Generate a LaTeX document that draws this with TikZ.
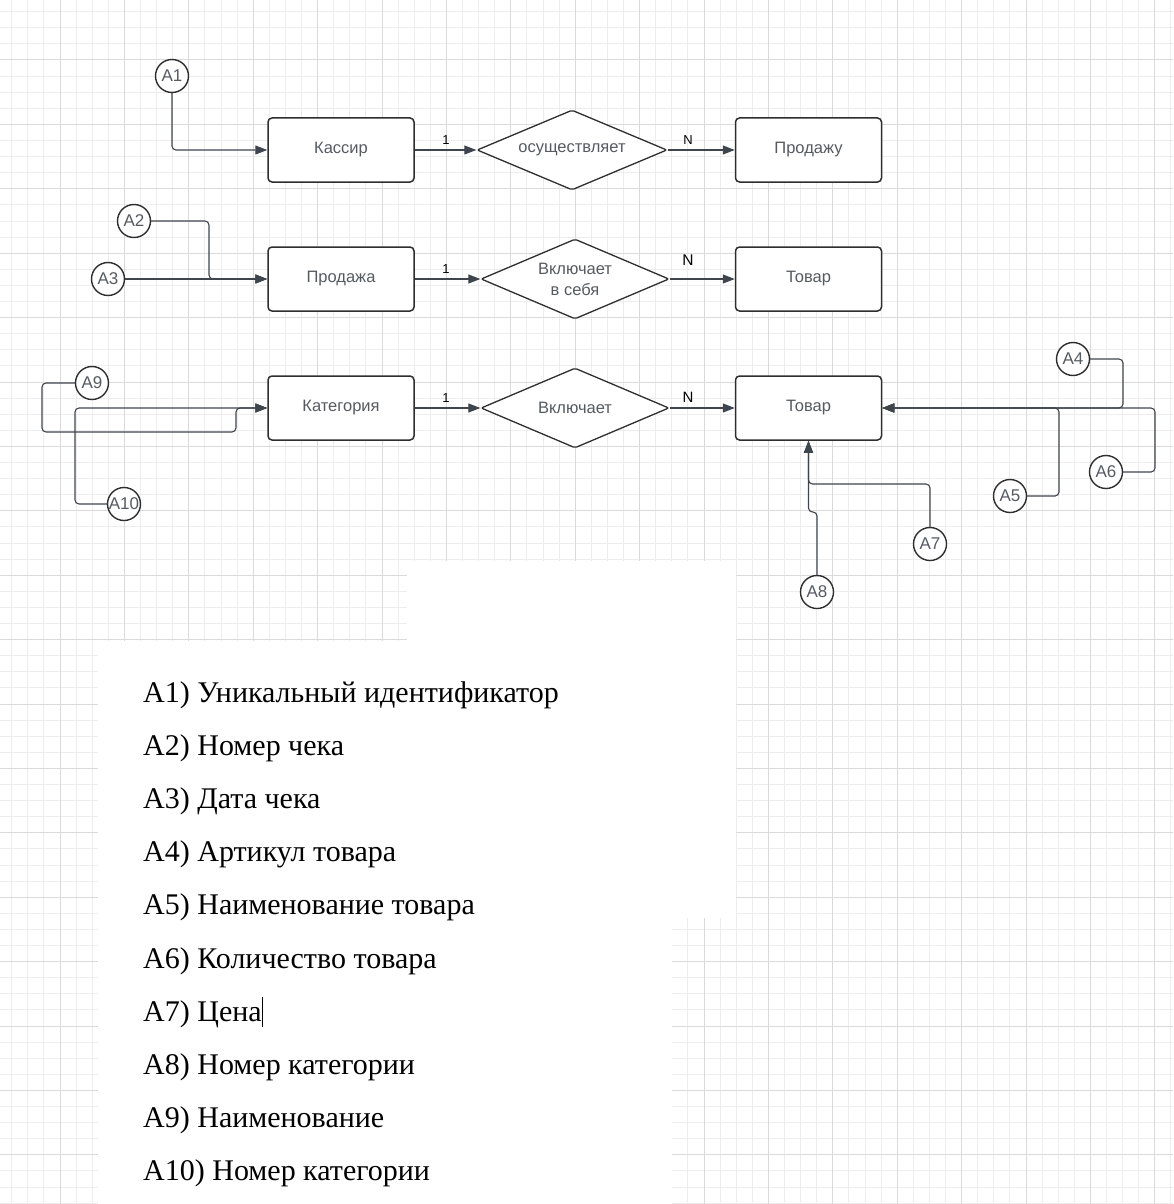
\documentclass[tikz,border=0pt]{standalone}
\usepackage{fontspec}
\setmainfont{Liberation Serif}
\newfontfamily\dsans{Liberation Sans}
\usetikzlibrary{shapes.geometric,arrows.meta}
\definecolor{gminor}{HTML}{EDEDED}
\definecolor{gmajor}{HTML}{DADADA}
\definecolor{linec}{HTML}{3F454D}
\definecolor{boxc}{HTML}{2E2E2E}
\definecolor{txtc}{HTML}{555B61}
\begin{document}
\begin{tikzpicture}[x=1pt,y=-1pt,
 entity/.style={draw=boxc,line width=1.5pt,rounded corners=4pt,minimum width=146pt,minimum height=64pt,inner sep=0pt,fill=white,font=\dsans\fontsize{16.5}{21}\selectfont,text=txtc},
 rel/.style={diamond,aspect=2.375,draw=boxc,line width=1.3pt,rounded corners=2pt,minimum width=190pt,minimum height=80pt,inner sep=0pt,fill=white,font=\dsans\fontsize{16.5}{21}\selectfont,text=txtc,align=center},
 attr/.style={circle,draw=boxc,line width=1.4pt,minimum size=33pt,inner sep=0pt,fill=white,font=\dsans\fontsize{17}{18}\selectfont,text=txtc},
 conn/.style={draw=linec,line width=1.1pt,rounded corners=4pt,-{Triangle[length=12pt,width=9pt]}},
 card/.style={font=\dsans\fontsize{13}{14}\selectfont,text=black,inner sep=0pt},
 item/.style={anchor=base west,inner sep=0pt,font=\fontsize{30}{32}\selectfont,text=black}
]
\useasboundingbox (0,0) rectangle (1173,1204);
\fill[white] (0,0) rectangle (1173,1204);
% grid
\foreach \i in {-3,...,72}{
  \draw[gminor,line width=1pt] ({60+16.1*\i},0) -- ({60+16.1*\i},1204);
  \draw[gminor,line width=1pt] (0,{60+16.1*\i}) -- (1173,{60+16.1*\i});
}
\foreach \i in {-1,...,18}{
  \draw[gmajor,line width=1pt] ({60+64.4*\i},0) -- ({60+64.4*\i},1204);
  \draw[gmajor,line width=1pt] (0,{60+64.4*\i}) -- (1173,{60+64.4*\i});
}
% white patches
\fill[white] (407,561) rectangle (736,641);
\fill[white] (98,641) rectangle (736,918);
\fill[white] (98,918) rectangle (672,1204);

% entities
\node[entity] (kassir) at (341,150) {Кассир};
\node[entity] (prodazhu) at (808.5,150) {Продажу};
\node[entity] (prodazha) at (341,279) {Продажа};
\node[entity] (tovar2) at (808.5,279) {Товар};
\node[entity] (kat) at (341,408) {Категория};
\node[entity] (tovar3) at (808.5,408) {Товар};
% relationships
\node[rel] (rel1) at (572,150) {осуществляет};
\node[rel,minimum width=188pt] (rel2) at (575,279) {Включает\\в себя};
\node[rel,minimum width=188pt] (rel3) at (575,408) {Включает};
% attributes
\node[attr] (a1) at (172,76) {A1};
\node[attr] (a2) at (134,221) {A2};
\node[attr] (a3) at (108,279) {A3};
\node[attr] (a4) at (1073,359) {A4};
\node[attr] (a5) at (1010,496) {A5};
\node[attr] (a6) at (1106,472) {A6};
\node[attr] (a7) at (930,544) {A7};
\node[attr] (a8) at (817,592) {A8};
\node[attr] (a9) at (92,383) {A9};
\node[attr] (a10) at (124,504) {A10};

% relationship connectors
\draw[conn] (kassir.east) -- (rel1.west);
\draw[conn] (rel1.east) -- (prodazhu.west);
\draw[conn] (prodazha.east) -- (rel2.west);
\draw[conn] (rel2.east) -- (tovar2.west);
\draw[conn] (kat.east) -- (rel3.west);
\draw[conn] (rel3.east) -- (tovar3.west);
\node[card] (c1) at (446,140) {1};
\node[card] (n1) at (688,140) {N};
\node[card] (c2) at (446,269) {1};
\node[card,font=\dsans\fontsize{15.5}{16}\selectfont] (n2) at (688,260) {N};
\node[card] (c3) at (446,398) {1};
\node[card,font=\dsans\fontsize{15}{16}\selectfont] (n3) at (688,397) {N};

% attribute connectors
\draw[conn] (a1.south) |- (kassir.west);
\draw[conn] (a2.east) -- (209,221) |- (prodazha.west);
\draw[conn] (a3.east) -- (prodazha.west);
\draw[conn] (a9.west) -- (42,383) -- (42,432) -- (236,432) -- (236,408) -- (kat.west);
\draw[conn] (a10.west) -- (75,504) |- (kat.west);
\draw[conn] (a4.east) -- (1123,359) |- (tovar3.east);
\draw[conn] (a5.east) -- (1059,496) |- (tovar3.east);
\draw[conn] (a6.east) -- (1155,472) |- (tovar3.east);
\draw[conn] (a7.north) -- (930,484) -- (808.5,484) -- (tovar3.south);
\draw[conn] (a8.north) -- (817,512) -- (808.5,512) -- (tovar3.south);

% list
\node[item] (t1) at (143,702) {A1) Уникальный идентификатор};
\node[item] (t2) at (143,755.2) {A2) Номер чека};
\node[item] (t3) at (143,808.4) {A3) Дата чека};
\node[item] (t4) at (143,861.6) {A4) Артикул товара};
\node[item] (t5) at (143,914.8) {A5) Наименование товара};
\node[item] (t6) at (143,968) {A6) Количество товара};
\node[item] (t7) at (143,1021.2) {A7) Цена};
\node[item] (t8) at (143,1074.4) {A8) Номер категории};
\node[item] (t9) at (143,1127.6) {A9) Наименование};
\node[item] (t10) at (143,1180.8) {A10) Номер категории};
\draw[black,line width=1pt] ([xshift=1pt,yshift=-6pt]t7.base east) -- ([xshift=1pt,yshift=24pt]t7.base east);
\end{tikzpicture}
\end{document}
